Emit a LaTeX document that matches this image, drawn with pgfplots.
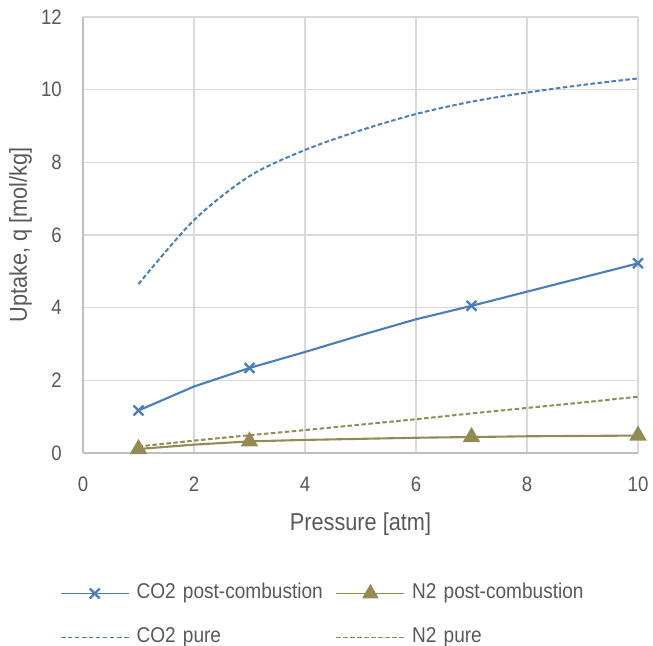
\documentclass[border=0pt]{standalone}
\usepackage{pgfplots}
\pgfplotsset{compat=1.18}
\usepackage{fontspec}
\setmainfont{Liberation Sans}[FakeStretch=0.89]
\definecolor{cblue}{HTML}{4A7EBB}
\definecolor{colive}{HTML}{948A54}
\definecolor{tgray}{HTML}{595959}
\definecolor{ggray}{HTML}{D9D9D9}
\definecolor{agray}{HTML}{BFBFBF}
\begin{document}
\begin{tikzpicture}
\begin{axis}[
  scale only axis,
  width=555bp, height=436bp,
  xmin=0, xmax=10, ymin=0, ymax=12,
  xtick={0,2,...,10}, ytick={0,2,...,12},
  axis lines=left,
  axis line style={-, agray, line width=1.4bp},
  grid=major,
  major grid style={ggray, line width=1.3bp},
  major tick length=0pt,
  tick style={draw=none},
  /pgf/number format/assume math mode=true,
  tick label style={font=\fontsize{21}{24}\selectfont, text=tgray},
  xticklabel style={anchor=base, yshift=-38bp},
  yticklabel style={anchor=east, inner sep=0pt, xshift=-21bp},
  xlabel={Pressure [atm]},
  ylabel={Uptake, q [mol/kg]},
  label style={font=\fontsize{24.5}{28}\selectfont, text=tgray},
  xlabel style={at={(axis description cs:0.5,-0.1766)}, anchor=base},
  ylabel style={at={(axis description cs:-0.1009,0.5)}, anchor=base},
  legend columns=2,
  legend cell align=left,
  legend image code/.code={\draw[#1,line width=1.6bp,mark indices={2}] plot coordinates {(0bp,0bp) (34bp,0bp) (68bp,0bp)};},
  legend style={
    at={(axis description cs:-0.04144,-0.2993)}, anchor=north west,
    draw=none, fill=none, inner sep=0pt, outer sep=0pt,
    row sep=24bp,
    /tikz/every odd column/.style={column sep=7bp},
    /tikz/every even column/.style={column sep=0bp},
    nodes={text width=199bp, inner sep=0pt, text height=15bp, text depth=5bp,
           align=left, font=\fontsize{21.5}{24}\selectfont, text=tgray},
  },
]
\addplot[cblue, line width=2.1bp, mark=x, mark size=7bp, mark indices={1,3,7,10},
  mark options={solid, line width=2.3bp}]
  coordinates {(1,1.17) (2,1.83) (3,2.34) (4,2.78) (5,3.24) (6,3.68) (7,4.05) (8,4.44) (9,4.83) (10,5.22)};
\addlegendentry{CO2 post-combustion}
\addplot[colive, line width=2.1bp, mark=triangle*, mark size=8bp, mark indices={1,3,7,10},
  mark options={solid}]
  coordinates {(1,0.11) (2,0.23) (3,0.32) (4,0.36) (5,0.39) (6,0.42) (7,0.44) (8,0.46) (9,0.47) (10,0.48)};
\addlegendentry{N2 post-combustion}
\addplot[cblue, line width=2bp, smooth, dash pattern=on 4.5bp off 2.5bp]
  coordinates {(1,4.65) (2,6.41) (3,7.62) (4,8.34) (5,8.88) (6,9.33) (7,9.67) (8,9.92) (9,10.13) (10,10.31)};
\addlegendentry{CO2 pure}
\addplot[colive, line width=2bp, dash pattern=on 4.5bp off 2.5bp]
  coordinates {(1,0.18) (2,0.34) (3,0.49) (4,0.63) (5,0.78) (6,0.93) (7,1.09) (8,1.24) (9,1.39) (10,1.55)};
\addlegendentry{N2 pure}
\end{axis}
\pgfresetboundingbox
\path[use as bounding box] ([xshift=-83bp,yshift=-193bp]current axis.south west) rectangle ++(653bp,646bp);
\end{tikzpicture}
\end{document}
